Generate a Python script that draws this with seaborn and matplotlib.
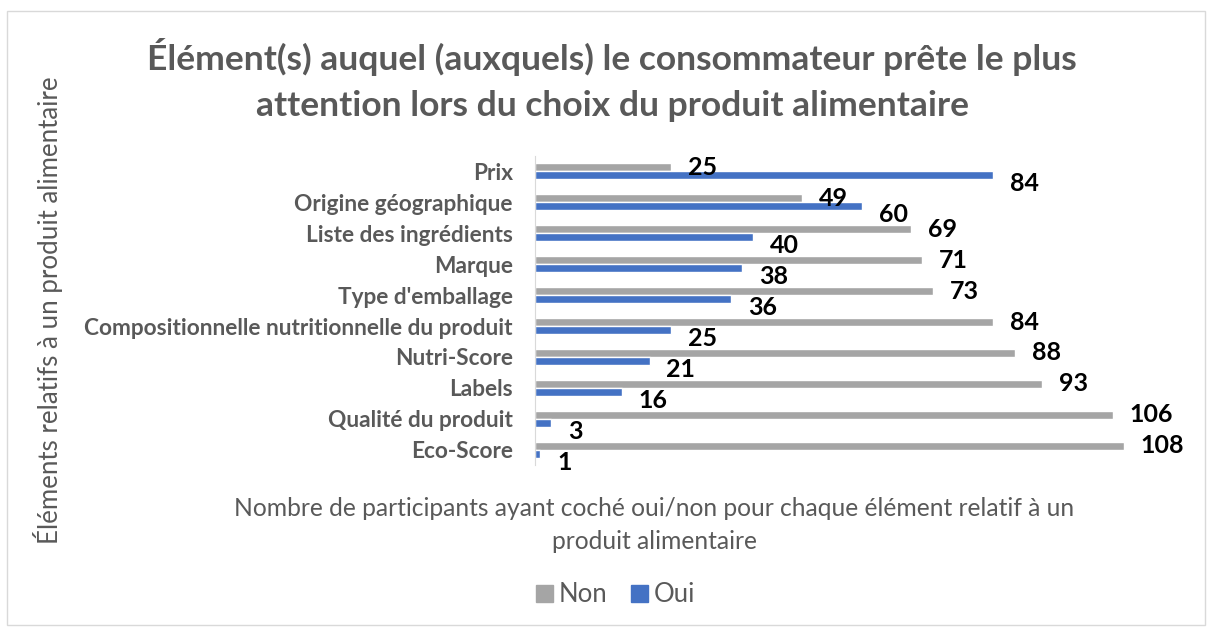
import pandas as pd
import seaborn as sns
import matplotlib.pyplot as plt
from matplotlib.patches import Rectangle

# data
elements = ['Prix', 'Origine géographique', 'Liste des ingrédients', 'Marque',
            "Type d'emballage", 'Compositionnelle nutritionnelle du produit',
            'Nutri-Score', 'Labels', 'Qualité du produit', 'Eco-Score']
non = [25, 49, 69, 71, 73, 84, 88, 93, 106, 108]
oui = [84, 60, 40, 38, 36, 25, 21, 16, 3, 1]
reponses = ['Non', 'Oui']
couleurs = ['#A5A5A5', '#4472C4']

df = pd.DataFrame({
    'element': elements * 2,
    'reponse': ['Non'] * len(non) + ['Oui'] * len(oui),
    'valeur': non + oui})

sns.set_style('white')
plt.rcParams['font.family'] = ['Lato', 'DejaVu Sans']
grey_txt = '#595959'

fig = plt.figure(figsize=(12.12, 6.28), dpi=100)
ax = fig.add_axes([0.4414, 0.259, 0.54, 0.493])

sns.barplot(data=df, y='element', x='valeur', hue='reponse', order=elements,
            hue_order=reponses, palette=couleurs, width=0.52, orient='h',
            ax=ax, legend=False, saturation=1)

ax.set_xlim(0, 120)
ax.set_xticks([])
ax.set_xlabel('')
ax.set_ylabel('')
for s in ['top', 'right', 'bottom']:
    ax.spines[s].set_visible(False)
ax.spines['left'].set_color('#D9D9D9')
ax.tick_params(axis='y', length=0, pad=16)
for lab in ax.get_yticklabels():
    lab.set_fontweight('bold')
    lab.set_fontsize(16.3)
    lab.set_color(grey_txt)

# data labels: Non centred on the bar, Oui pushed a bit below
for cont, vals, dy in zip(ax.containers, [non, oui], [0, -6]):
    for bar, v in zip(cont, vals):
        ax.annotate(str(v), (bar.get_width(), bar.get_y() + bar.get_height() / 2),
                    xytext=(12, dy), textcoords='offset points',
                    ha='left', va='center', fontsize=18, fontweight='bold',
                    color='black')

fig.text(0.505, 0.873, 'Élément(s) auquel (auxquels) le consommateur prête le plus\n'
         'attention lors du choix du produit alimentaire',
         ha='center', va='center', fontsize=25.5, fontweight='bold',
         color=grey_txt, linespacing=1.55)

fig.text(0.54, 0.164, 'Nombre de participants ayant coché oui/non pour chaque élément relatif à un\n'
         'produit alimentaire', ha='center', va='center', fontsize=17.7,
         color=grey_txt, linespacing=1.55)

fig.text(0.040, 0.506, 'Éléments relatifs à un produit alimentaire', rotation=90,
         ha='center', va='center', fontsize=18.6, color=grey_txt)

handles = [Rectangle((0, 0), 1, 1, color=c) for c in couleurs]
fig.legend(handles, reponses, loc='center', bbox_to_anchor=(0.508, 0.053), ncol=2,
           frameon=False, fontsize=18.5, handlelength=0.65, handleheight=0.65,
           handletextpad=0.25, columnspacing=0.9, labelcolor=grey_txt)

fig.patches.append(Rectangle((0.006, 0.005), 0.988, 0.978, transform=fig.transFigure,
                             fill=False, edgecolor='#D9D9D9', linewidth=1))

fig.savefig('out.png', dpi=100)
